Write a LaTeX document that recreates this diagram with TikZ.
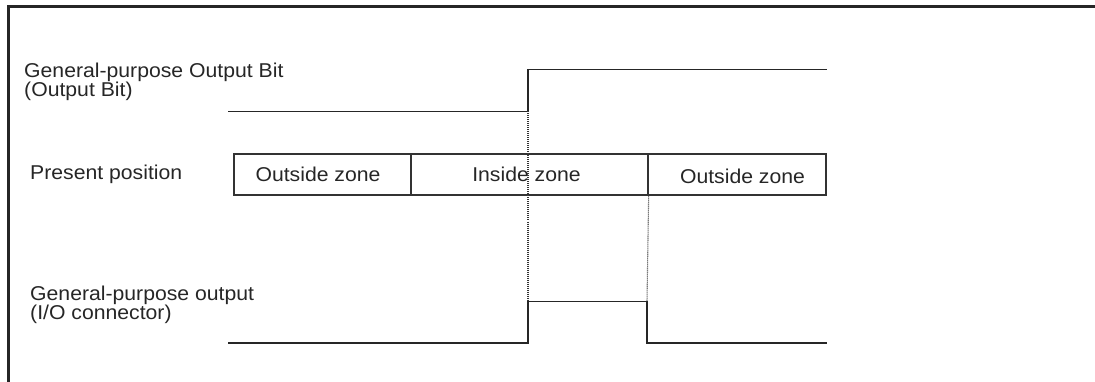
\documentclass[tikz,border=0pt]{standalone}
\usepackage{fontspec}
\setmainfont{Liberation Sans}[FakeStretch=1.06]
\begin{document}
\begin{tikzpicture}[x=1pt,y=-1pt,
  lbl/.style={inner sep=0pt, anchor=base west, font=\fontsize{20}{24}\selectfont, text=black!85},
  ztext/.style={inner sep=0pt, anchor=base, font=\fontsize{20}{24}\selectfont, text=black!85},
  zone/.style={draw=black!80, line width=1.3pt, inner sep=0pt, minimum height=41pt},
  sig/.style={draw=black!85, line width=1.5pt},
  guide/.style={draw=black!80, line width=1.1pt, dash pattern=on 1pt off 1pt},
  frame/.style={draw=black!85, line width=2.6pt}]
\useasboundingbox (0,0) rectangle (1095,382);
% frame
\draw[frame] (1095,6.5) -- (8.5,6.5) -- (8.5,382);
% labels
\node[lbl] (l1a) at (24,78) {General-purpose Output Bit};
\node[lbl] (l1b) at (24,97) {(Output Bit)};
\node[lbl] (l2) at (30,180) {Present position};
\node[lbl] (l3a) at (30,300.5) {General-purpose output};
\node[lbl] (l3b) at (30,319.5) {(I/O connector)};
% zone boxes
\node[zone, minimum width=177pt] (z1) at (322.5,174.5) {};
\node[zone, minimum width=237pt] (z2) at (529.5,174.5) {};
\node[zone, minimum width=178pt] (z3) at (737,174.5) {};
\node[ztext] (t1) at (318,182) {Outside zone};
\node[ztext] (t2) at (526.5,182) {Inside zone};
\node[ztext] (t3) at (742.5,184) {Outside zone};
% output bit waveform
\coordinate (a0) at (228,111.5);
\coordinate (a1) at (528,111.5);
\coordinate (a2) at (528,69.5);
\coordinate (a3) at (827,69.5);
\draw[sig] (a0) -- (a1) -- (a2) -- (a3);
% I/O output waveform
\coordinate (b0) at (228,343);
\coordinate (b1) at (528,343);
\coordinate (b2) at (528,301.5);
\coordinate (b3) at (647,301.5);
\coordinate (b4) at (647,343);
\coordinate (b5) at (827,343);
\draw[sig] (b0) -- (b1) -- (b2) -- (b3) -- (b4) -- (b5);
% guide lines
\draw[guide] (a1) -- (b2);
\draw[guide] (z2.south east) -- (b3);
\end{tikzpicture}
\end{document}
